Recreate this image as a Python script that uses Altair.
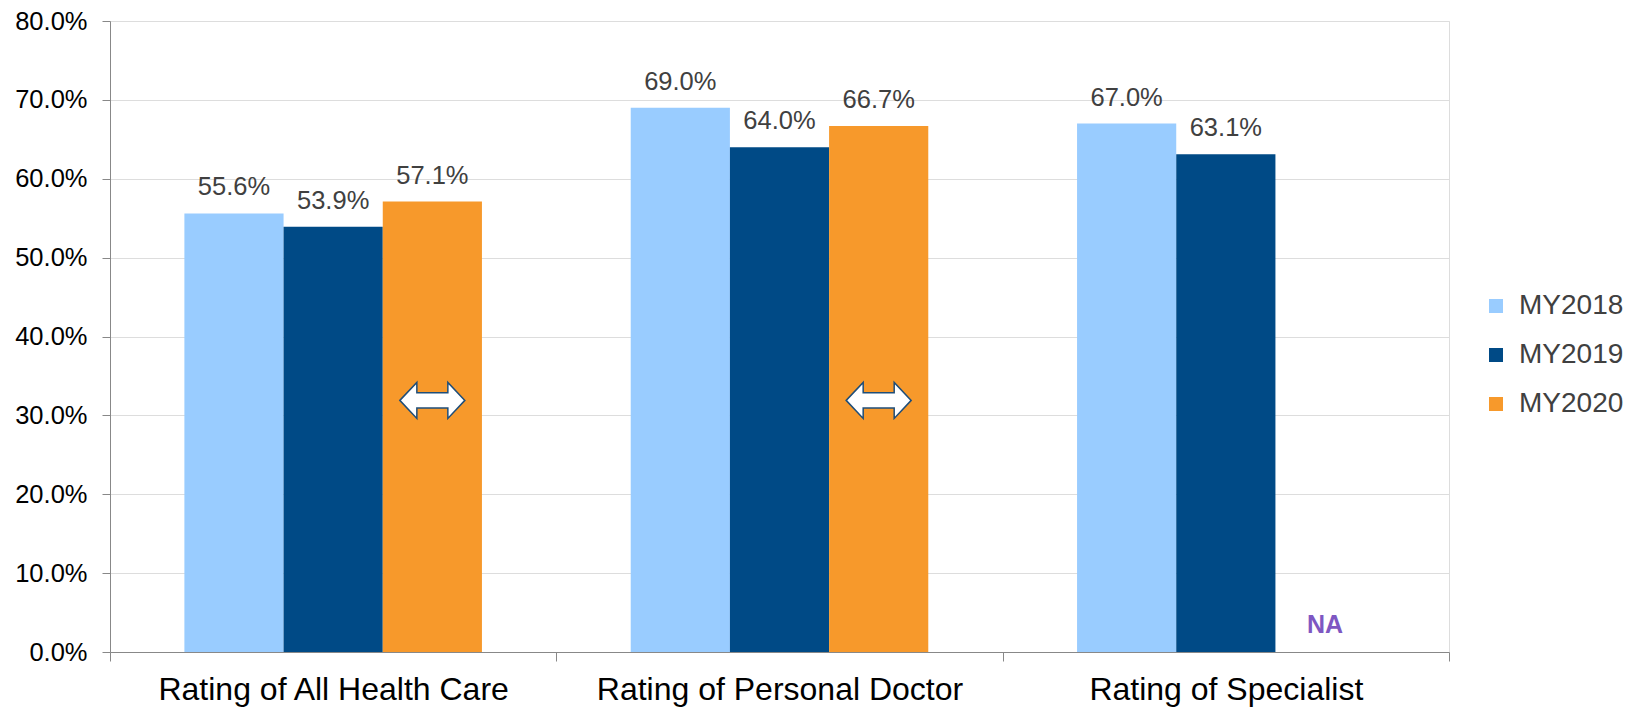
import altair as alt
import pandas as pd

categories = ["Rating of All Health Care", "Rating of Personal Doctor", "Rating of Specialist"]
series = ["MY2018", "MY2019", "MY2020"]
my2018 = [0.556, 0.690, 0.670]
my2019 = [0.539, 0.640, 0.631]
my2020 = [0.571, 0.667, None]
colors = ["#99CCFF", "#004A86", "#F7992B"]
y_ticks = [0.0, 0.1, 0.2, 0.3, 0.4, 0.5, 0.6, 0.7, 0.8]

# double-headed arrow markers (no change) drawn on the MY2020 bars
arrow_categories = ["Rating of All Health Care", "Rating of Personal Doctor"]
arrow_series = "MY2020"
arrow_value = 0.319
na_text = "NA"

rows = []
for s, vals in zip(series, [my2018, my2019, my2020]):
    for c, v in zip(categories, vals):
        rows.append({"category": c, "series": s, "value": v})
df = pd.DataFrame(rows)
bars_df = df.dropna().reset_index(drop=True)
na_df = pd.DataFrame([{"category": r["category"], "series": r["series"], "value": 0.0, "label": na_text}
                      for _, r in df.iterrows() if pd.isna(r["value"])])
arrow_df = pd.DataFrame([{"category": c, "series": arrow_series, "value": arrow_value} for c in arrow_categories])

FONT = "Liberation Sans"
TEXT = "#404040"
GRID = "#9C9C9C"

x_enc = alt.X("category:N", scale=alt.Scale(domain=categories, paddingInner=0, paddingOuter=0),
              axis=alt.Axis(title=None, labelAngle=0, tickBand="extent", tickSize=9, labelPadding=13,
                            labelFontSize=32, labelLimit=1000, grid=False))
xo_enc = alt.XOffset("series:N", scale=alt.Scale(domain=series, paddingInner=0, paddingOuter=0.75))
y_enc = alt.Y("value:Q", scale=alt.Scale(domain=[0, 0.8], nice=False),
              axis=alt.Axis(title=None, values=y_ticks, format=".1%", tickSize=8, labelPadding=15,
                            labelFontSize=25.5, grid=True))

bars = alt.Chart(bars_df).mark_bar().encode(
    x=x_enc, xOffset=xo_enc, y=y_enc,
    color=alt.Color("series:N", scale=alt.Scale(domain=series, range=colors),
                    legend=alt.Legend(title=None, orient="none", legendX=1372, legendY=271,
                                      symbolType="square", symbolSize=196, symbolStrokeWidth=0,
                                      labelFontSize=28, labelColor=TEXT, labelFont=FONT,
                                      rowPadding=21, labelOffset=9, padding=0)),
)

labels = alt.Chart(bars_df).mark_text(dy=-18, baseline="alphabetic", fontSize=25.5, color=TEXT, font=FONT).encode(
    x=x_enc, xOffset=xo_enc, y=y_enc,
    text=alt.Text("value:Q", format=".1%"),
)

arrow_path = ("M -1 0 L -0.477 -0.554 L -0.477 -0.237 L 0.477 -0.237 L 0.477 -0.554 L 1 0 "
              "L 0.477 0.554 L 0.477 0.237 L -0.477 0.237 L -0.477 0.554 Z")
arrows = alt.Chart(arrow_df).mark_point(shape=arrow_path, size=4225, filled=True, fill="white",
                                         stroke="#1F4E79", strokeWidth=1.5, opacity=1).encode(
    x=x_enc, xOffset=xo_enc, y=y_enc,
)

na = alt.Chart(na_df).mark_text(dy=-19, baseline="alphabetic", fontSize=25, fontWeight="bold",
                                 color="#7E57C2", font=FONT).encode(
    x=x_enc, xOffset=xo_enc, y=y_enc, text="label:N",
)

chart = alt.layer(bars, labels, arrows, na).properties(
    width=1339, height=631,
    autosize=alt.AutoSizeParams(type="none"),
    padding={"left": 102, "top": 13, "right": 181, "bottom": 56},
).configure_view(strokeWidth=0).configure_axis(
    labelFont=FONT, labelColor=TEXT, domainColor=GRID, domainWidth=1.5,
    tickColor=GRID, tickWidth=1.5, gridColor=GRID, gridWidth=1.5,
).configure(background="white")

chart.save("out.html", embed_options={"renderer": "svg", "actions": False})
